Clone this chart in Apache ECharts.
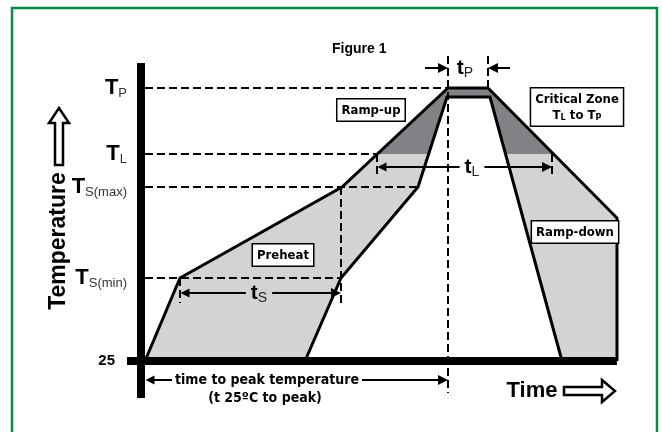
<!DOCTYPE html>
<html>
<head>
<meta charset="utf-8">
<script src="https://cdn.jsdelivr.net/npm/echarts@6/dist/echarts.min.js"></script>
<style>
html, body { margin: 0; padding: 0; background: #fff; }
#chart { width: 662px; height: 432px; }
</style>
</head>
<body>
<div id="chart"></div>
<script>
// temperature levels shown on the vertical axis
const levelNames = ['25', 'S(min)', 'S(max)', 'L', 'P'];
const levelTemps = [25, 108, 199, 232, 298];

// profile envelope: upper and lower edge of the allowed band
const upperTime = [4, 39, 201, 307, 347, 476, 476];
const upperTemp = [25, 108, 199, 298, 298, 168, 25];
const lowerTime = [164, 200, 277, 306, 349, 421];
const lowerTemp = [25, 108, 199, 289, 289, 25];

// time spans marked with arrows
const tsSpan = [39, 200];
const tlSpan = [236, 411];
const tpSpan = [307, 347];
const peakSpan = [4, 307];
// height of each arrow row: ts, tL, tP, time to peak
const arrowRows = [93, 219, 318, 6];

// boxed region labels
const zoneNames = ['Ramp-up', 'Preheat', 'Ramp-down', 'Critical Zone'];
const zoneTime = [230, 142, 434, 436];
const zoneTemp = [276, 131, 154, 279];

const BOLD = '"Liberation Sans", Arial, sans-serif';
const COND = '"DejaVu Sans Condensed", "Liberation Sans", sans-serif';
const LIGHT = '#d2d3d5';
const DARK = '#808285';

const [T25, TSmin, TSmax, TL, TP] = levelTemps;

const upper = upperTime.map((t, i) => [t, upperTemp[i]]);
const lower = lowerTime.map((t, i) => [t, lowerTemp[i]]);
const envelope = upper.concat(lower.slice().reverse());

// part of the band above TL (critical zone)
function clipAbove(poly, level) {
  const out = [];
  for (let i = 0; i < poly.length; i++) {
    const a = poly[i], b = poly[(i + 1) % poly.length];
    const ain = a[1] >= level, bin = b[1] >= level;
    if (ain) out.push(a);
    if (ain !== bin) {
      const k = (level - a[1]) / (b[1] - a[1]);
      out.push([a[0] + k * (b[0] - a[0]), level]);
    }
  }
  return out;
}
const critical = clipAbove(envelope, TL);

const seg = (x1, y1, x2, y2) => ({ coords: [[x1, y1], [x2, y2]] });
const inset = 5;

const dashed = [
  seg(4, TP, tpSpan[0], TP),
  seg(4, TL, tlSpan[0], TL),
  seg(4, TSmax, lowerTime[2], TSmax),
  seg(4, TSmin, tsSpan[1], TSmin),
  seg(tsSpan[1], TSmax, tsSpan[1], 83),
  seg(tsSpan[0], TSmin, tsSpan[0], 83),
  seg(tpSpan[0], 330, tpSpan[0], -7),
  seg(tpSpan[1], 330, tpSpan[1], TP),
  seg(tlSpan[0], TL, tlSpan[0], 209),
  seg(tlSpan[1], TL, tlSpan[1], 209)
];

const doubleArrows = [
  seg(tsSpan[0] + inset, arrowRows[0], tsSpan[1] - inset, arrowRows[0]),
  seg(tlSpan[0] + inset, arrowRows[1], tlSpan[1] - inset, arrowRows[1]),
  seg(peakSpan[0] + inset, arrowRows[3], peakSpan[1] - inset, arrowRows[3])
];
const singleArrows = [
  seg(tpSpan[0] - 23, arrowRows[2], tpSpan[0] - inset, arrowRows[2]),
  seg(tpSpan[1] + 22, arrowRows[2], tpSpan[1] + inset, arrowRows[2])
];

const subRich = {
  t: { fontFamily: BOLD, fontWeight: 'bold', fontSize: 21, color: '#000' },
  s: { fontFamily: BOLD, fontSize: 14, color: '#222', padding: [11, 0, 0, 0] },
  w: { fontFamily: COND, fontWeight: 'bold', fontSize: 14, color: '#000' }
};

const textMarks = [
  { value: [118, arrowRows[0]], label: { formatter: '{t|t}{s|S}', backgroundColor: LIGHT, padding: [0, 5, 0, 5] } },
  { value: [331, arrowRows[1]], label: { formatter: '{t|t}{s|L}', backgroundColor: '#fff', padding: [0, 5, 0, 5] } },
  { value: [324, arrowRows[2]], label: { formatter: '{t|t}{s|P}' } },
  { value: [126, arrowRows[3]], label: { formatter: '{w|time to peak temperature}', backgroundColor: '#fff', padding: [0, 3, 0, 3] } },
  { value: [124, -12], label: { formatter: '{w|(t 25\u00baC to peak)}' } }
];

const zoneMarks = zoneNames.map((name, i) => ({
  value: [zoneTime[i], zoneTemp[i]],
  label: {
    formatter: name === 'Critical Zone' ? '{b|Critical Zone}\n{b|T}{c|L}{b| to T}{c|P}' : '{b|' + name + '}'
  }
}));

const chart = echarts.init(document.getElementById('chart'), null, { renderer: 'canvas' });

chart.setOption({
  animation: false,
  backgroundColor: '#fff',
  title: {
    text: 'Figure 1',
    left: 327,
    top: 37,
    textStyle: { fontFamily: BOLD, fontWeight: 'bold', fontSize: 14, color: '#000' }
  },
  grid: { left: 141, right: 41, top: 50, bottom: 32 },
  xAxis: { type: 'value', min: 0, max: 480, show: false },
  yAxis: {
    type: 'value',
    min: -14,
    max: 336,
    axisLine: { show: false },
    axisTick: { show: false },
    splitLine: { show: false },
    axisLabel: {
      customValues: levelTemps,
      margin: 14,
      formatter: v => {
        const i = levelTemps.indexOf(v);
        if (i === 0) return '{n|' + levelNames[0] + '}';
        return '{T|T}{s|' + levelNames[i] + '}';
      },
      rich: {
        n: { fontFamily: BOLD, fontWeight: 'bold', fontSize: 15, color: '#000', padding: [0, 12, 0, 0] },
        T: { fontFamily: BOLD, fontWeight: 'bold', fontSize: 22, color: '#000' },
        s: { fontFamily: BOLD, fontSize: 13, color: '#333', padding: [11, 0, 0, 0] }
      }
    }
  },
  graphic: [
    { type: 'polyline', shape: { points: [[12, 440], [12, 8], [657, 8], [657, 440]] }, style: { stroke: '#0a8a4a', lineWidth: 2.5, fill: null } },
    { type: 'polygon', shape: { points: [[59, 108], [69, 123], [63, 123], [63, 165], [55, 165], [55, 123], [49, 123]] }, style: { stroke: '#000', lineWidth: 2.5, fill: '#fff' } },
    { type: 'text', x: 59, y: 241, rotation: Math.PI / 2, style: { text: 'Temperature', fontFamily: BOLD, fontWeight: 'bold', fontSize: 23, fill: '#000', align: 'center', verticalAlign: 'middle' } },
    { type: 'text', x: 532, y: 391, style: { text: 'Time', fontFamily: BOLD, fontWeight: 'bold', fontSize: 22, fill: '#000', align: 'center', verticalAlign: 'middle' } },
    { type: 'polygon', shape: { points: [[564, 387], [602, 387], [602, 380], [615, 391], [602, 402], [602, 395], [564, 395]] }, style: { stroke: '#000', lineWidth: 2.5, fill: '#fff' } }
  ],
  series: [
    {
      type: 'custom',
      coordinateSystem: 'cartesian2d',
      silent: true,
      clip: false,
      z: 1,
      data: [[0, 0]],
      renderItem: (params, api) => ({
        type: 'group',
        children: [
          { type: 'polygon', shape: { points: envelope.map(p => api.coord(p)) }, style: { fill: LIGHT } },
          { type: 'polygon', shape: { points: critical.map(p => api.coord(p)) }, style: { fill: DARK } }
        ]
      })
    },
    {
      type: 'lines',
      coordinateSystem: 'cartesian2d',
      clip: false,
      silent: true,
      z: 2,
      lineStyle: { color: '#000', width: 2, type: [8, 4], opacity: 1 },
      data: dashed
    },
    {
      type: 'lines',
      coordinateSystem: 'cartesian2d',
      polyline: true,
      clip: false,
      silent: true,
      z: 3,
      lineStyle: { color: '#000', width: 3, opacity: 1, join: 'miter' },
      data: [{ coords: upper }, { coords: lower }]
    },
    {
      type: 'lines',
      coordinateSystem: 'cartesian2d',
      clip: false,
      silent: true,
      z: 4,
      lineStyle: { color: '#000', width: 8, opacity: 1 },
      data: [seg(0, 323, 0, -12), seg(-14, T25, 476, T25)]
    },
    {
      type: 'lines',
      coordinateSystem: 'cartesian2d',
      clip: false,
      silent: true,
      z: 4,
      symbol: ['triangle', 'triangle'],
      symbolSize: [9, 10],
      lineStyle: { color: '#000', width: 2, opacity: 1 },
      data: doubleArrows
    },
    {
      type: 'lines',
      coordinateSystem: 'cartesian2d',
      clip: false,
      silent: true,
      z: 4,
      symbol: ['none', 'triangle'],
      symbolSize: [9, 10],
      lineStyle: { color: '#000', width: 2, opacity: 1 },
      data: singleArrows
    },
    {
      type: 'scatter',
      silent: true,
      clip: false,
      z: 5,
      symbolSize: 1,
      itemStyle: { color: 'rgba(0,0,0,0)', opacity: 1 },
      label: { show: true, position: 'inside', color: '#000', textBorderWidth: 0, rich: subRich },
      data: textMarks
    },
    {
      type: 'scatter',
      silent: true,
      clip: false,
      z: 5,
      symbolSize: 1,
      itemStyle: { color: 'rgba(0,0,0,0)', opacity: 1 },
      label: {
        show: true,
        position: 'inside',
        color: '#000',
        textBorderWidth: 0,
        backgroundColor: '#fff',
        borderColor: '#000',
        borderWidth: 1.5,
        padding: [3, 4, 2, 4],
        rich: {
          b: { fontFamily: COND, fontWeight: 'bold', fontSize: 13, color: '#000', lineHeight: 16 },
          c: { fontFamily: COND, fontWeight: 'bold', fontSize: 9, color: '#000', lineHeight: 16, padding: [5, 0, 0, 0] }
        }
      },
      data: zoneMarks
    }
  ]
});
</script>
</body>
</html>
